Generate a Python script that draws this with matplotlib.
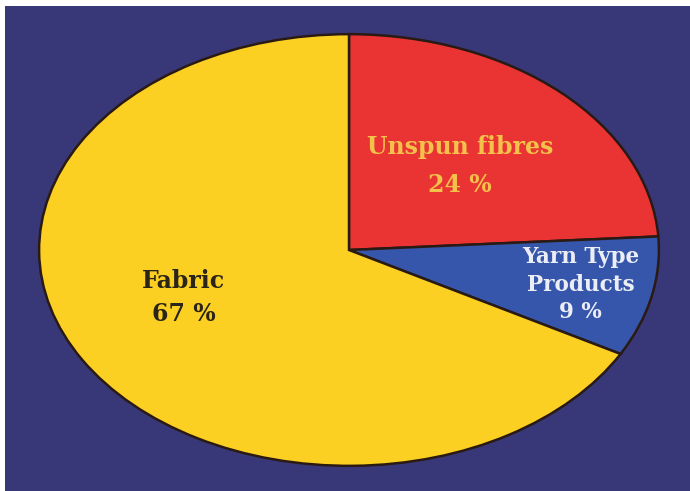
import matplotlib
matplotlib.use('Agg')
import matplotlib.pyplot as plt
import matplotlib.patches as mpatches

# data
labels = ['Unspun fibres', 'Yarn Type\nProducts', 'Fabric']
shares = [24, 9, 67]
colors = ['#ea3434', '#3656ab', '#fcd022']
text_colors = ['#f4c24a', '#eceef6', '#2b2418']
label_pos = [(0.358, 0.39), (0.748, -0.16), (-0.534, -0.22)]
label_size = [17, 15.5, 17]
line_gap = [1.73, 1.34, 1.47]
navy = '#383878'

fig = plt.figure(figsize=(6.9, 4.91), dpi=100)
fig.patch.set_facecolor('white')
# navy panel behind the pie
fig.add_artist(mpatches.Rectangle((5/690, 0), 1 - 5/690, 1 - 6/491,
                                  transform=fig.transFigure, facecolor=navy,
                                  edgecolor='none', zorder=-5))

ax = fig.add_axes([36/690, 23/491, 626/690, 436/491])
ax.set_facecolor('none')
ax.pie(shares, colors=colors, startangle=90, counterclock=False, radius=1,
       wedgeprops=dict(edgecolor='#2a1a14', linewidth=1.8))
ax.set_aspect('auto')
ax.set_xlim(-1.01, 1.01)
ax.set_ylim(-1.01, 1.01)
ax.axis('off')

for lab, val, tc, (x, y), fs, ls in zip(labels, shares, text_colors, label_pos,
                                        label_size, line_gap):
    ax.text(x, y, f'{lab}\n{val} %', ha='center', va='center', color=tc,
            fontsize=fs, fontweight='bold', family='DejaVu Serif',
            linespacing=ls)

plt.savefig('out.png', dpi=100)
plt.close()
